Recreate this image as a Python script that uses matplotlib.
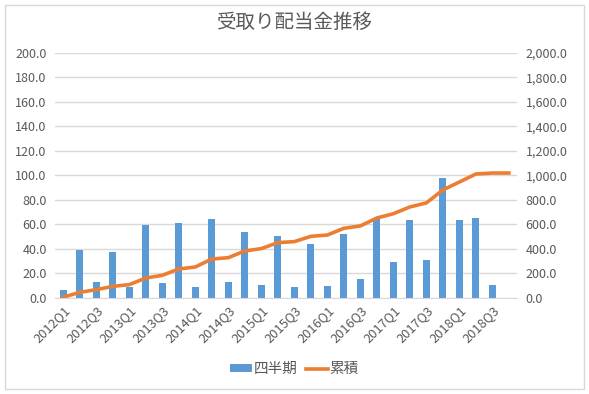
import matplotlib.pyplot as plt
from matplotlib.patches import Rectangle
from matplotlib.ticker import FuncFormatter
import numpy as np

plt.rcParams['font.family'] = ['Noto Sans CJK JP', 'DejaVu Sans']

quarters = [f"{y}Q{q}" for y in range(2012, 2019) for q in range(1, 5)]
quarterly = [6.8, 39.5, 13.3, 37.8, 9.3, 59.9, 12.5, 61.5, 9.3, 64.8,
             13.3, 54.1, 10.9, 50.9, 9.3, 44.4, 10.1, 52.5, 15.8, 64.8,
             29.7, 63.9, 31.3, 98.2, 63.9, 65.6, 10.9, 0.0]
cumulative = [7, 46, 68, 95, 109, 163, 185, 237, 253, 318,
              329, 384, 403, 452, 460, 503, 514, 569, 588, 653,
              688, 743, 776, 882, 947, 1012, 1020, 1020]

gray = '#595959'
x = np.arange(len(quarters))

fig = plt.figure(figsize=(5.89, 3.94), dpi=100)
fig.patches.append(Rectangle((0.008, 0.013), 0.984, 0.975, transform=fig.transFigure,
                             fill=False, edgecolor='#D9D9D9', linewidth=1))
ax = fig.add_axes([0.0934, 0.2437, 0.7846, 0.6218])
ax2 = ax.twinx()

ax.bar(x, quarterly, width=0.43, color='#5B9BD5', label='四半期', zorder=2)
ax2.plot(x, cumulative, color='#ED7D31', linewidth=2.6, label='累積', zorder=3)

ax.set_ylim(0, 200)
ax.set_yticks(np.arange(0, 201, 20))
ax2.set_ylim(0, 2000)
ax2.set_yticks(np.arange(0, 2001, 200))
ax.set_xlim(-0.5, len(quarters) - 0.5)
ax.set_xticks(x[::2])
ax.set_xticklabels(quarters[::2], rotation=45, ha='right', rotation_mode='anchor')

ax.yaxis.set_major_formatter(FuncFormatter(lambda v, p: f"{v:.1f}"))
ax2.yaxis.set_major_formatter(FuncFormatter(lambda v, p: f"{v:,.1f}"))

ax.grid(axis='y', color='#D9D9D9', linewidth=1, zorder=0)
ax.set_axisbelow(True)
for a in (ax, ax2):
    for s in a.spines.values():
        s.set_visible(False)
    a.tick_params(length=0, labelsize=9, colors=gray, pad=6)
ax.spines['bottom'].set_visible(True)
ax.spines['bottom'].set_color('#D9D9D9')
ax.tick_params(axis='x', labelsize=9.3, pad=4)

fig.text(0.5, 0.944, '受取り配当金推移', ha='center', va='center', fontsize=14, color=gray)

h1, l1 = ax.get_legend_handles_labels()
h2, l2 = ax2.get_legend_handles_labels()
fig.legend(h1 + h2, l1 + l2, loc='center', bbox_to_anchor=(0.5, 0.063), ncol=2,
           frameon=False, fontsize=10.5, labelcolor=gray, handlelength=1.5,
           handleheight=0.45, handletextpad=0.1, columnspacing=0.6)

fig.savefig('out.png', dpi=100)
